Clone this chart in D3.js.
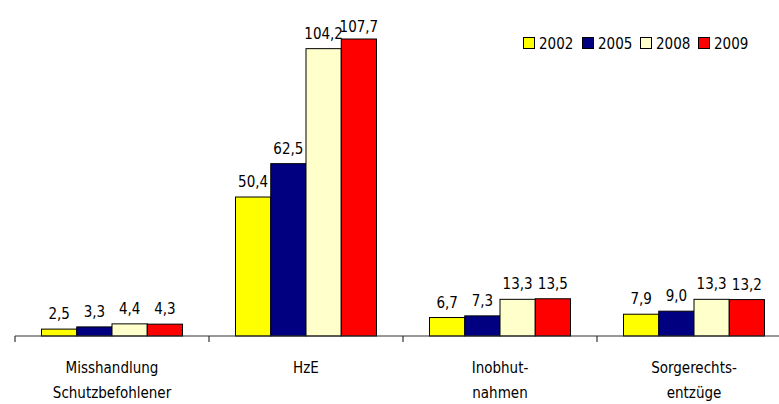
<!DOCTYPE html>
<html><head><meta charset="utf-8">
<script src="https://cdn.jsdelivr.net/npm/d3@7"></script>
<style>body{margin:0;background:#fff}svg{display:block}text{font-family:"DejaVu Sans Condensed","Liberation Sans Narrow",sans-serif;fill:#000}</style>
</head><body>
<script>
const categories = [["Misshandlung","Schutzbefohlener"],["HzE"],["Inobhut-","nahmen"],["Sorgerechts-","entzüge"]];
const years = ["2002","2005","2008","2009"];
const colors = ["#FFFF00","#000080","#FFFFCC","#FF0000"];
const v2002 = [2.5, 50.4, 6.7, 7.9];
const v2005 = [3.3, 62.5, 7.3, 9.0];
const v2008 = [4.4, 104.2, 13.3, 13.3];
const v2009 = [4.3, 107.7, 13.5, 13.2];
const series = [v2002, v2005, v2008, v2009];

const W = 779, H = 404;
const svg = d3.select("body").append("svg").attr("width", W).attr("height", H);
const base = 336;
const x0 = d3.scaleBand().domain(d3.range(categories.length)).range([15, 791]).paddingInner(0).paddingOuter(0);
const x1 = d3.scaleBand().domain(d3.range(years.length)).range([26.5, x0.bandwidth() - 26.5]);
const y = d3.scaleLinear().domain([0, 107.7]).range([base, 39]);

const g = svg.append("g");
categories.forEach((c, i) => {
  series.forEach((s, j) => {
    const bx = x0(i) + x1(j);
    g.append("rect").attr("x", bx).attr("y", y(s[i])).attr("width", x1.bandwidth()).attr("height", base - y(s[i]))
      .attr("fill", colors[j]).attr("stroke", "#000").attr("stroke-width", 1);
    const isTopRed = (i === 1 && j === 3);
    g.append("text").attr("x", bx + x1.bandwidth() / 2).attr("y", y(s[i]) - (isTopRed ? 7 : 10)).attr("text-anchor", "middle")
      .attr("font-size", 15).text(d3.format(".1f")(s[i]).replace(".", ","));
  });
});

// axis
const ax = svg.append("g").attr("transform", `translate(0,${base})`);
ax.append("line").attr("x1", 15).attr("x2", 791).attr("stroke", "#333").attr("stroke-width", 1.2);
d3.range(categories.length).forEach(i => {
  ax.append("line").attr("x1", x0(i)).attr("x2", x0(i)).attr("y1", 0).attr("y2", 6).attr("stroke", "#333").attr("stroke-width", 1.2);
});
categories.forEach((c, i) => {
  const t = svg.append("text").attr("text-anchor", "middle").attr("font-size", 15);
  c.forEach((line, k) => {
    t.append("tspan").attr("x", x0(i) + x0.bandwidth() / 2).attr("y", 373 + k * 25).text(line);
  });
});

// legend
const lx = [523, 582, 640, 698];
years.forEach((yr, j) => {
  svg.append("rect").attr("x", lx[j] + 0.5).attr("y", 37.5).attr("width", 11).attr("height", 11)
    .attr("fill", colors[j]).attr("stroke", "#000").attr("stroke-width", 1);
  svg.append("text").attr("x", lx[j] + 16).attr("y", 49).attr("font-size", 15).text(yr);
});
</script>
</body></html>
